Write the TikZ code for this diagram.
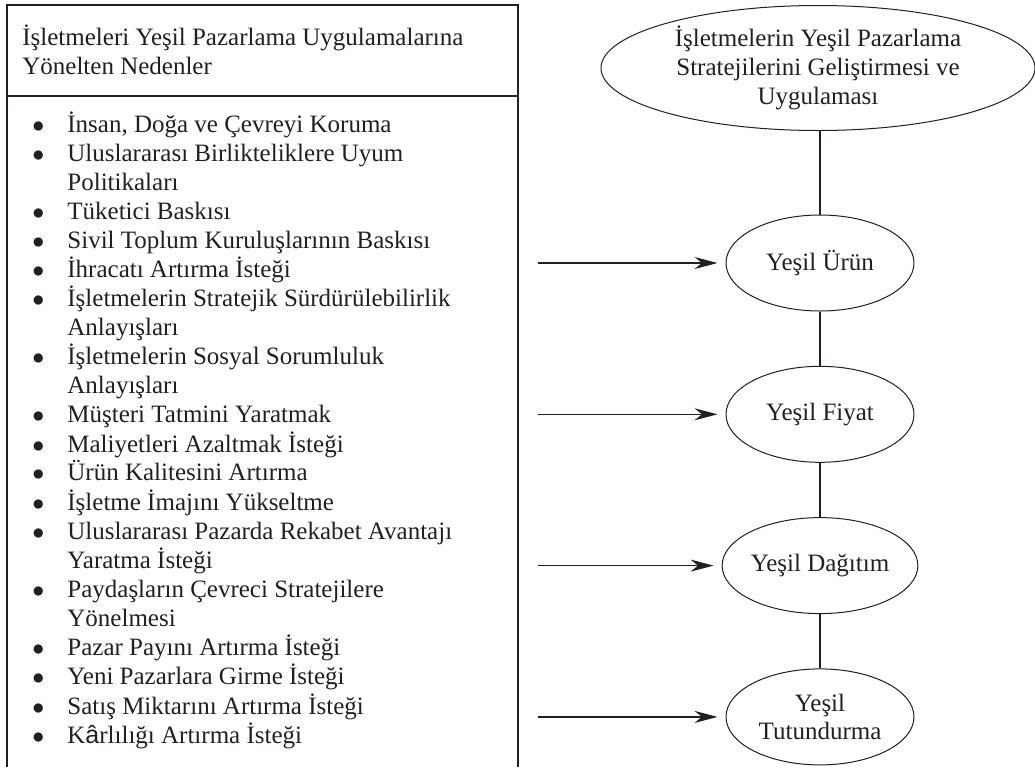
\documentclass[tikz,border=0pt]{standalone}
\usepackage{fontspec}
\setmainfont{Liberation Serif}
\newfontfamily\sansglyph{Liberation Sans}
\usepackage{xcolor}
\usetikzlibrary{positioning,shapes.geometric,arrows.meta}
\definecolor{ink}{HTML}{231F20}
\newcommand{\bigdot}{$\bullet$}

\begin{document}
\begin{tikzpicture}[x=0.5pt,y=-0.5pt,node distance=75.65pt,on grid,color=ink,
    font=\fontsize{12.5}{14.45}\selectfont,
    oval/.style={draw,ellipse,line width=0.5pt,inner sep=0pt,minimum width=94pt,minimum height=48pt,align=center}]
                \useasboundingbox (0,0) rectangle (1035,767);
                % left frame, open at the bottom
                \draw[line width=0.6pt] (7,767) |- (518,5) -- (518,767);
                \draw[line width=0.6pt] (7,96) -- (518,96);
                \node[anchor=west,align=left,inner sep=0pt] (title) at (22,50)
                    {İşletmeleri Yeşil Pazarlama Uygulamalarına\\Yönelten Nedenler};
                \node[anchor=west,inner sep=0pt] (reasons) at (32,432) {%
                    \begin{tabular}{@{}l@{\hspace{11.5pt}}l@{}}
                    \bigdot & İnsan, Doğa ve Çevreyi Koruma\\
                    \bigdot & Uluslararası Birlikteliklere Uyum\\
                            & Politikaları\\
                    \bigdot & Tüketici Baskısı\\
                    \bigdot & Sivil Toplum Kuruluşlarının Baskısı\\
                    \bigdot & İhracatı Artırma İsteği\\
                    \bigdot & İşletmelerin Stratejik Sürdürülebilirlik\\
                            & Anlayışları\\
                    \bigdot & İşletmelerin Sosyal Sorumluluk\\
                            & Anlayışları\\
                    \bigdot & Müşteri Tatmini Yaratmak\\
                    \bigdot & Maliyetleri Azaltmak İsteği\\
                    \bigdot & Ürün Kalitesini Artırma\\
                    \bigdot & İşletme İmajını Yükseltme\\
                    \bigdot & Uluslararası Pazarda Rekabet Avantajı\\
                            & Yaratma İsteği\\
                    \bigdot & Paydaşların Çevreci Stratejilere\\
                            & Yönelmesi\\
                    \bigdot & Pazar Payını Artırma İsteği\\
                    \bigdot & Yeni Pazarlara Girme İsteği\\
                    \bigdot & Satış Miktarını Artırma İsteği\\
                    \bigdot & K{\sansglyph â}rlılığı Artırma İsteği
                    \end{tabular}};
                % marketing mix
                \node[oval,minimum width=217pt,minimum height=62.5pt,inner xsep=4pt] (strategy) at (818,68)
                    {İşletmelerin Yeşil Pazarlama\\Stratejilerini Geliştirmesi ve\\Uygulaması};
                \node[oval] (product) at (820,263) {Yeşil Ürün};
                \node[oval,below=of product] (price) {Yeşil Fiyat};
                \node[oval,below=of price] (place) {Yeşil Dağıtım};
                \node[oval,below=of place] (promotion) {Yeşil\\Tutundurma};
                \draw[line width=0.6pt] (strategy.south -| product) -- (product) -- (price) -- (place) -- (promotion);
                \coordinate (in1) at (538,0 |- product);
                \coordinate (in2) at (538,0 |- price);
                \coordinate (in3) at (538,0 |- place);
                \coordinate (in4) at (538,0 |- promotion);
                \path[-{Stealth[length=11.5pt,width=6pt]},line width=0.6pt,shorten >=4pt]
                    (in1) edge (product)
                    (in2) edge (price)
                    (in3) edge (place)
                    (in4) edge (promotion);
            \end{tikzpicture}
\end{document}
